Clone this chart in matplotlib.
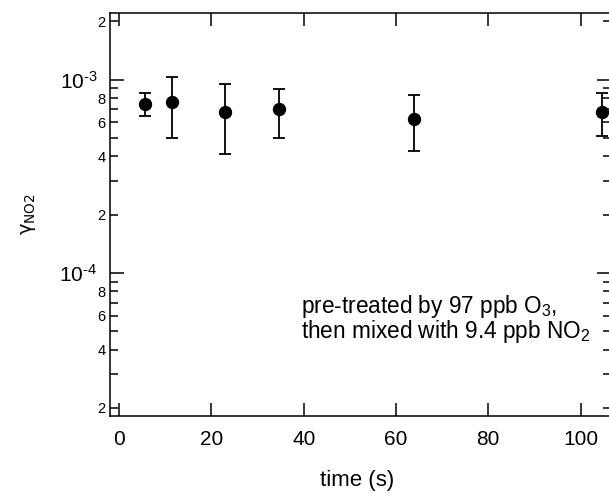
import numpy as np
import matplotlib
matplotlib.use("Agg")
import matplotlib.pyplot as plt
from matplotlib.ticker import LogLocator, FixedLocator, FuncFormatter

plt.rcParams["font.family"] = ["Liberation Sans", "DejaVu Sans"]
plt.rcParams["mathtext.fontset"] = "custom"
plt.rcParams["mathtext.rm"] = "Liberation Sans"
plt.rcParams["mathtext.it"] = "Liberation Sans:italic"
plt.rcParams["mathtext.default"] = "regular"

# uptake coefficient of NO2 versus exposure time
time_s = [5.6, 11.4, 23.0, 34.7, 63.8, 104.6]
gamma = [7.47e-4, 7.62e-4, 6.81e-4, 7.01e-4, 6.27e-4, 6.76e-4]
gamma_upper = [8.48e-4, 1.034e-3, 9.51e-4, 8.97e-4, 8.31e-4, 8.48e-4]
gamma_lower = [6.50e-4, 4.96e-4, 4.11e-4, 5.00e-4, 4.28e-4, 5.10e-4]

x_ticks = [0, 20, 40, 60, 80, 100]

g = np.array(gamma)
yerr = [g - np.array(gamma_lower), np.array(gamma_upper) - g]

fig = plt.figure(figsize=(6.09, 4.94), dpi=100)
ax = fig.add_axes([110 / 609, (494 - 415.7) / 494, (611 - 110) / 609, (415.7 - 13) / 494])

ax.errorbar(time_s, gamma, yerr=yerr, fmt="o", color="black", ms=8.6,
            elinewidth=1.3, capsize=4.5, capthick=1.3, clip_on=False)

ax.set_yscale("log")
ax.set_xlim(-2, 106.6)
ax.set_ylim(1.82e-5, 2.21e-3)

ax.xaxis.set_major_locator(FixedLocator(x_ticks))
ax.yaxis.set_major_locator(LogLocator(base=10))
ax.yaxis.set_minor_locator(LogLocator(base=10, subs=np.arange(2, 10)))


def major_fmt(v, pos):
    e = int(round(np.log10(v)))
    return r"$10^{\text{%d}}$" % e


def minor_fmt(v, pos):
    e = np.floor(np.log10(v) + 1e-9)
    m = int(round(v / 10 ** e))
    return str(m) if m in (2, 4, 6, 8) else ""


ax.yaxis.set_major_formatter(FuncFormatter(major_fmt))
ax.yaxis.set_minor_formatter(FuncFormatter(minor_fmt))

for s in ax.spines.values():
    s.set_linewidth(1.1)

ax.tick_params(axis="x", which="major", direction="in", length=9.5, width=1.1,
               top=True, labelsize=15, pad=10)
ax.tick_params(axis="x", which="minor", bottom=False, top=False)
ax.tick_params(axis="y", which="major", direction="in", length=10, width=1.1,
               right=True, labelsize=15, pad=9)
ax.tick_params(axis="y", which="minor", direction="in", length=5.8, width=1.1,
               right=True, labelsize=10.5, pad=3)

ax.set_xlabel("time (s)", fontsize=16)
ax.xaxis.label.set_va("center")
ax.xaxis.set_label_coords((356.7 - 110) / (611 - 110), -(480 - 415.7) / (415.7 - 13))
ax.set_ylabel(r"γ$_{\mathregular{NO2}}$", fontsize=14, family=["DejaVu Sans"])
ax.yaxis.set_label_coords(-(110 - 38) / (611 - 110), 0.5)

ax.text(301, 494 - 306.7, r"pre-treated by 97 ppb O$_3$,", transform=None,
        fontsize=16.3, va="center", ha="left")
ax.text(301, 494 - 331.7, r"then mixed with 9.4 ppb NO$_2$", transform=None,
        fontsize=16.3, va="center", ha="left")

fig.savefig("out.png", dpi=100)
